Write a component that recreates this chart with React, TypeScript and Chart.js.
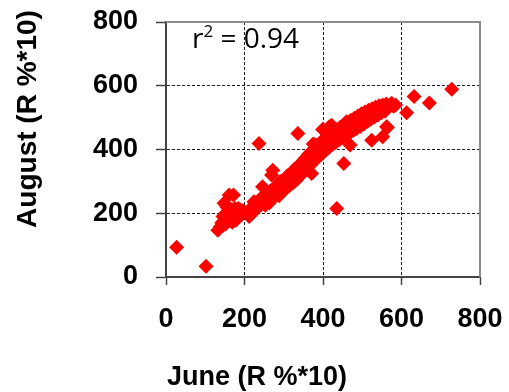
import { useEffect, useRef } from 'react';
import { Chart, registerables } from 'chart.js';

Chart.register(...registerables);

// June (x) vs August (y), both in R %*10

// low-value cluster
const clusterJune: number[] = [
  132, 138, 142, 146, 150, 153, 156, 160, 163, 166, 169, 172, 175, 178, 181, 184, 187, 190, 193, 196,
  199, 145, 152, 160, 168, 176, 184, 148, 161, 172, 155
];
const clusterAugust: number[] = [
  147, 158, 170, 162, 178, 168, 188, 176, 195, 182, 172, 200, 188, 178, 205, 192, 200, 210, 196, 208,
  203, 190, 200, 205, 212, 215, 215, 231, 257, 257, 220
];

// main band
const bandJune: number[] = [
  212, 216, 220, 224, 228, 232, 236, 240,
  243, 246, 250, 253, 256, 260, 263, 266, 270, 273, 276, 279, 282, 285, 288, 291, 294, 297, 300,
  303, 306, 309, 312, 315, 318, 321, 324, 327, 330, 333, 336, 339, 342, 345, 348, 351, 354, 357, 360,
  363, 366, 369, 372, 375, 378, 381, 384, 387, 390, 393, 396, 399, 402, 405, 408, 411, 414, 417, 420,
  423, 426, 429, 432, 435, 438, 441, 444, 447, 450, 453, 456, 459, 462, 465, 468, 471, 474, 477, 480,
  483, 486, 489, 492, 495, 498, 501, 504, 507, 510, 513, 516, 519, 522, 525, 528, 531, 534, 537, 540,
  543, 546, 549, 552, 555, 558, 561,
  565, 570, 575, 580, 585,
  230, 260, 290, 320, 350, 380, 410, 440, 470, 500, 530, 560
];
const bandAugust: number[] = [
  190, 215, 200, 225, 212, 235, 220, 245,
  228, 250, 238, 225, 258, 245, 232, 270, 258, 248, 280, 262, 288, 270, 255, 300, 285, 272, 305,
  290, 278, 318, 300, 287, 325, 310, 296, 338, 318, 305, 348, 330, 318, 358, 342, 330, 372, 355, 345,
  385, 368, 352, 395, 378, 365, 405, 390, 375, 418, 400, 385, 428, 410, 395, 440, 420, 405, 448, 430,
  415, 455, 438, 422, 462, 445, 430, 470, 452, 438, 478, 460, 445, 485, 468, 452, 492, 475, 460, 498,
  482, 466, 505, 490, 472, 512, 497, 480, 518, 503, 488, 523, 510, 495, 528, 515, 502, 533, 520, 508,
  537, 525, 515, 540, 530, 520, 543,
  533, 540, 545, 536, 540,
  222, 250, 282, 312, 350, 385, 417, 447, 472, 497, 516, 532
];

// scattered points
const outlierJune: number[] = [
  27, 102, 728, 632, 671, 613, 562, 552, 524, 453, 435, 336, 237, 416, 405, 465, 272, 269, 246, 224,
  268, 375, 371, 469, 399, 422, 564, 380, 460
];
const outlierAugust: number[] = [
  93, 34, 589, 566, 546, 515, 471, 440, 429, 356, 215, 450, 419, 471, 459, 481, 335, 320, 283, 236,
  241, 417, 325, 414, 463, 476, 469, 416, 487
];

const xTickValues: number[] = [0, 200, 400, 600, 800];
const yTickValues: number[] = [0, 200, 400, 600, 800];

const xTitle = 'June (R %*10)';
const yTitle = 'August (R %*10)';
const rSquaredLabel = '0.94';

const decorPlugin = {
  id: 'decor',
  beforeDatasetsDraw(chart: any) {
    const { ctx, chartArea: a } = chart;
    ctx.save();
    ctx.setLineDash([]);
    ctx.strokeStyle = '#8a8a8a';
    ctx.lineWidth = 2;
    ctx.beginPath();
    ctx.moveTo(a.left, a.top);
    ctx.lineTo(a.right, a.top);
    ctx.lineTo(a.right, a.bottom);
    ctx.stroke();
    ctx.restore();
  },
  afterDraw(chart: any) {
    const { ctx } = chart;
    ctx.save();
    ctx.fillStyle = '#000';
    ctx.font = 'bold 27px "Liberation Sans", Arial, sans-serif';
    ctx.textAlign = 'center';
    ctx.textBaseline = 'alphabetic';
    ctx.fillText(xTitle, 257, 385);
    ctx.save();
    ctx.translate(36, 119);
    ctx.rotate(-Math.PI / 2);
    ctx.font = 'bold 28px "Liberation Sans", Arial, sans-serif';
    ctx.fillText(yTitle, 0, 0);
    ctx.restore();
    // r^2 annotation
    ctx.textAlign = 'left';
    ctx.font = '28px "Open Sans", sans-serif';
    let x = 192;
    const base = 48;
    ctx.fillText('r', x, base);
    x += ctx.measureText('r').width;
    ctx.font = '17px "Open Sans", sans-serif';
    ctx.fillText('2', x, base - 11);
    x += ctx.measureText('2').width;
    ctx.font = '28px "Open Sans", sans-serif';
    ctx.fillText(' = ' + rSquaredLabel, x, base);
    ctx.restore();
  },
};

export default function App() {
  const canvasRef = useRef<HTMLCanvasElement | null>(null);

  useEffect(() => {
    if (!canvasRef.current) return;
    const toPoints = (xs: number[], ys: number[]) => xs.map((x, i) => ({ x, y: ys[i] }));
    const points = [
      ...toPoints(clusterJune, clusterAugust),
      ...toPoints(bandJune, bandAugust),
      ...toPoints(outlierJune, outlierAugust),
    ];
    const gridColor = (c: any) => {
      const v = c && c.tick ? c.tick.value : null;
      return v === 0 || v === 800 ? 'rgba(0,0,0,0)' : '#1a1a1a';
    };
    const tickFont = { family: '"Liberation Sans", Arial, sans-serif', size: 27, weight: 'bold' as const };
    const chart = new Chart(canvasRef.current, {
      type: 'scatter',
      data: {
        datasets: [
          {
            data: points,
            pointStyle: 'rectRot',
            pointRadius: 7.5,
            pointBackgroundColor: '#ff0000',
            pointBorderColor: '#ff0000',
            pointBorderWidth: 0,
          },
        ],
      },
      options: {
        animation: false,
        responsive: false,
        events: [],
        layout: { padding: { top: 22, right: 29, left: 0, bottom: 0 } },
        plugins: { legend: { display: false }, tooltip: { enabled: false } },
        scales: {
          x: {
            type: 'linear',
            min: 0,
            max: 800,
            afterBuildTicks: (s: any) => {
              s.ticks = xTickValues.map((v) => ({ value: v }));
            },
            afterFit: (s: any) => {
              s.height = 115;
              s.paddingLeft = 0;
              s.paddingRight = 0;
            },
            ticks: { color: '#000', font: tickFont, padding: 18, maxRotation: 0, autoSkip: false },
            grid: {
              display: true,
              drawOnChartArea: true,
              drawTicks: true,
              color: gridColor,
              lineWidth: 1,
              tickLength: 8,
              tickColor: '#444',
              tickWidth: 1.5,
              tickBorderDash: [],
            },
            border: { display: true, color: '#444', width: 2, dash: [3, 2] },
          },
          y: {
            type: 'linear',
            min: 0,
            max: 800,
            afterBuildTicks: (s: any) => {
              s.ticks = yTickValues.map((v) => ({ value: v }));
            },
            afterFit: (s: any) => {
              s.width = 166;
              s.paddingTop = 0;
              s.paddingBottom = 0;
            },
            ticks: { color: '#000', font: tickFont, padding: 18, autoSkip: false },
            grid: {
              display: true,
              drawOnChartArea: true,
              drawTicks: true,
              color: gridColor,
              lineWidth: 1,
              tickLength: 10,
              tickColor: '#444',
              tickWidth: 1.5,
              tickBorderDash: [],
            },
            border: { display: true, color: '#444', width: 2, dash: [3, 2] },
          },
        },
      },
      plugins: [decorPlugin],
    });
    return () => chart.destroy();
  }, []);

  return (
    <div style={{ position: 'absolute', left: 0, top: 0, width: 509, height: 392, background: '#fff' }}>
      <canvas ref={canvasRef} width={509} height={392} style={{ display: 'block' }} />
    </div>
  );
}
